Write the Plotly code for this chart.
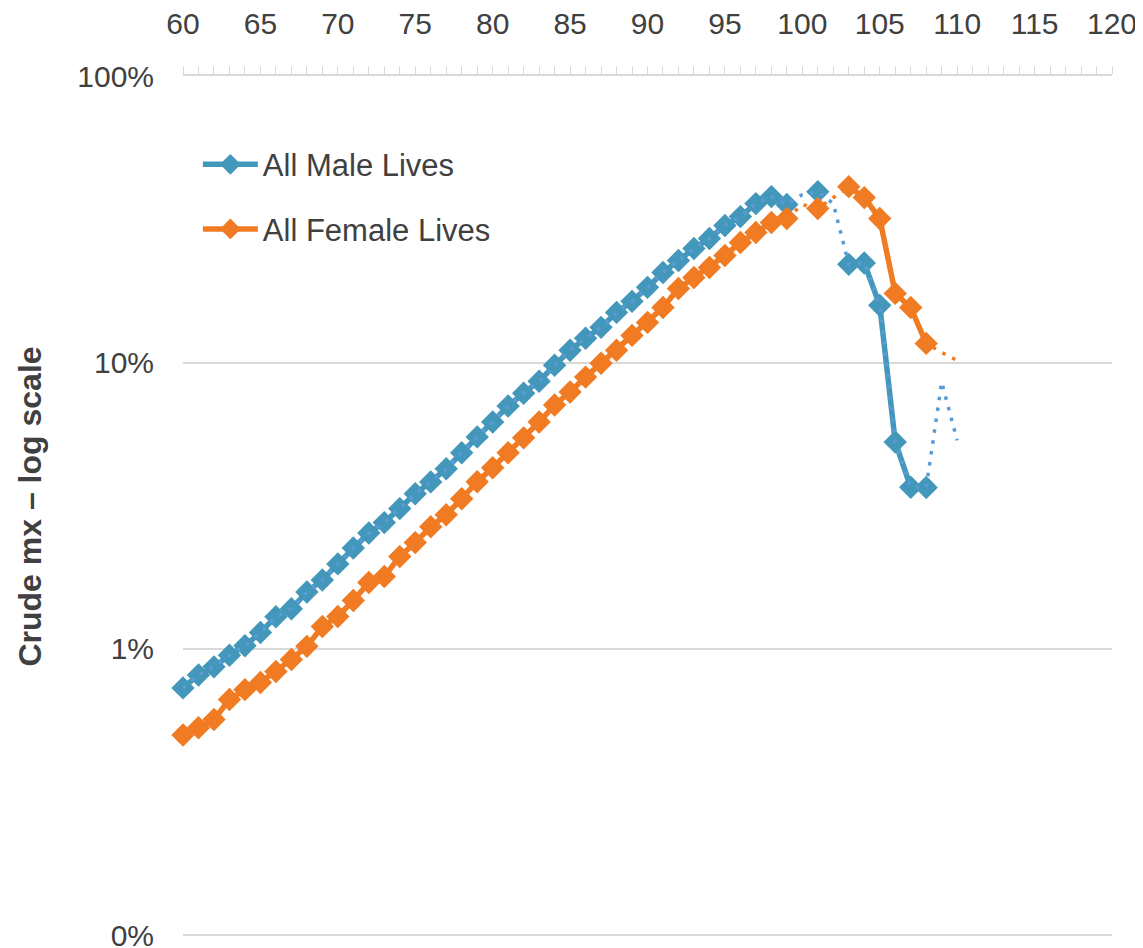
import plotly.graph_objects as go

ages = list(range(60, 111))

male_mx = [0.73, 0.81, 0.865, 0.95, 1.025, 1.14, 1.295, 1.38, 1.58, 1.74,
           1.98, 2.25, 2.54, 2.76, 3.09, 3.48, 3.83, 4.26, 4.84, 5.50,
           6.20, 7.05, 7.82, 8.61, 9.79, 11.05, 12.16, 13.28, 14.98, 16.37,
           18.32, 20.66, 22.74, 25.05, 27.15, 30.13, 32.38, 35.95, 38.03, 35.67,
           38.65, 39.58, 35.95, 22.05, 22.3, 15.85, 5.28, 3.67, 3.66, 8.55,
           5.35]

female_mx = [0.50, 0.53, 0.566, 0.665, 0.72, 0.763, 0.833, 0.918, 1.02, 1.196,
             1.297, 1.475, 1.705, 1.79, 2.10, 2.35, 2.67, 2.94, 3.345, 3.835,
             4.29, 4.84, 5.46, 6.20, 7.11, 7.89, 8.90, 9.95, 11.05, 12.45,
             13.82, 15.58, 18.16, 19.83, 21.5, 23.68, 26.28, 28.48, 30.87, 31.88,
             35.67, 34.54, 37.73, 41.2, 37.73, 31.88, 17.45, 15.58, 11.67, 10.85,
             10.17]

# ages shown with markers (credible data points)
marker_ages = list(range(60, 100)) + [101] + list(range(103, 109))

y_tickvals = [0.001, 0.01, 0.1, 1]
y_ticktext = ["0%", "1%", "10%", "100%"]

MALE = "#4297BB"
MALE_DOT = "#5B9BD5"
FEMALE = "#F07B22"
TEXT = "#404040"
GRID = "#D9D9D9"


def masked(vals):
    return [v / 100 if a in marker_ages else None for a, v in zip(ages, vals)]


fig = go.Figure()

fig.add_trace(go.Scatter(
    x=ages, y=masked(male_mx), name="All Male Lives", mode="lines+markers",
    line=dict(color=MALE, width=5.5), marker=dict(symbol="diamond", size=18, color=MALE),
    connectgaps=False, cliponaxis=False, legend="legend"))
fig.add_trace(go.Scatter(
    x=ages, y=masked(female_mx), name="All Female Lives", mode="lines+markers",
    line=dict(color=FEMALE, width=5.5), marker=dict(symbol="diamond", size=18, color=FEMALE),
    connectgaps=False, cliponaxis=False, legend="legend2"))

fig.add_trace(go.Scatter(
    x=ages, y=[v / 100 for v in female_mx], mode="lines", showlegend=False,
    line=dict(color=FEMALE, width=3.5, dash="3.5px,7.5px"), hoverinfo="skip", cliponaxis=False))
fig.add_trace(go.Scatter(
    x=ages, y=[v / 100 for v in male_mx], mode="lines", showlegend=False,
    line=dict(color=MALE_DOT, width=3.5, dash="3.5px,7.5px"), hoverinfo="skip", cliponaxis=False))

font_family = "Liberation Sans, Arial, sans-serif"
FS = 30

fig.update_layout(
    width=1143, height=948,
    margin=dict(l=175, r=39, t=68, b=19),
    paper_bgcolor="white", plot_bgcolor="white",
    font=dict(family=font_family, color=TEXT, size=FS),
    legend=dict(x=0.016, y=0.897, xanchor="left", yanchor="middle",
                font=dict(size=31, color=TEXT), itemwidth=55, bgcolor="rgba(0,0,0,0)"),
    legend2=dict(x=0.016, y=0.822, xanchor="left", yanchor="middle",
                 font=dict(size=31, color=TEXT), itemwidth=55, bgcolor="rgba(0,0,0,0)"),
    xaxis=dict(
        side="top", range=[60, 120], tick0=60, dtick=5,
        showgrid=False, zeroline=False, automargin=False,
        showline=True, linecolor=GRID, linewidth=1.5,
        ticks="outside", ticklen=8, tickcolor=GRID, tickwidth=1,
        minor=dict(dtick=1, ticks="outside", ticklen=8, tickcolor=GRID, tickwidth=1),
        ticklabelstandoff=20,
        tickfont=dict(size=FS, color=TEXT),
    ),
    yaxis=dict(
        type="log", range=[-3.007, 0.0015], automargin=False,
        tickvals=y_tickvals, ticktext=y_ticktext,
        showgrid=True, gridcolor=GRID, gridwidth=1.5,
        zeroline=False, showline=False, ticks="",
        ticklabelstandoff=28,
        tickfont=dict(size=FS, color=TEXT),
        title=dict(text="<b>Crude mx – log scale</b>", standoff=26,
                   font=dict(size=32, color=TEXT,
                             family="Liberation Sans Narrow, Arial Narrow, Liberation Sans, sans-serif")),
    ),
)

fig.write_html("out.html")
